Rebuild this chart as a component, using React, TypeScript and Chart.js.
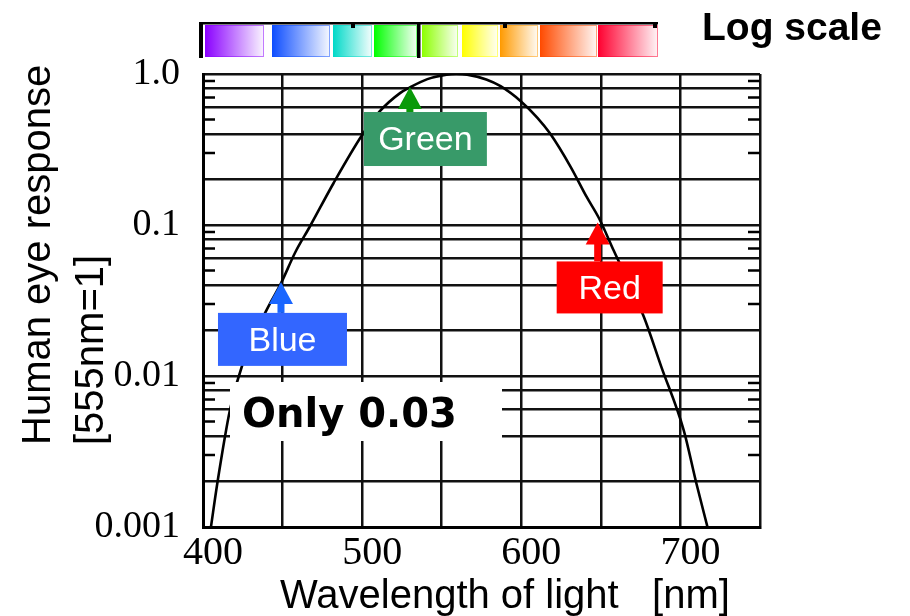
import React, { useEffect, useRef } from 'react';
import { Chart, registerables } from 'chart.js';

Chart.register(...registerables);

// ---- data ----
const wavelengths = [405, 409, 417, 425, 440, 449, 458, 467, 482, 500, 511, 524, 530, 541, 553, 559, 566, 578, 587, 600, 610, 618, 631, 641, 649, 658, 677, 688, 702, 710, 717];
const response = [0.001, 0.00195, 0.006, 0.0121, 0.0274, 0.0411, 0.066, 0.097, 0.189, 0.394, 0.565, 0.75, 0.815, 0.925, 0.99, 1.0, 0.99, 0.92, 0.83, 0.656, 0.515, 0.405, 0.243, 0.154, 0.11, 0.068, 0.0247, 0.0115, 0.0044, 0.00195, 0.001];

const xLabelValues = [400, 500, 600, 700];
const yGridValues = [0.001, 0.002, 0.004, 0.006, 0.008, 0.01, 0.02, 0.04, 0.06, 0.08, 0.1, 0.2, 0.4, 0.6, 0.8, 1];
const yLabelValues = [0.001, 0.01, 0.1, 1];
const yLabelTexts = ['0.001', '0.01', '0.1', '1.0'];
const yMinorValues = [0.003, 0.005, 0.007, 0.009, 0.03, 0.05, 0.07, 0.09, 0.3, 0.5, 0.7, 0.9];

const calloutLabels = ['Blue', 'Green', 'Red'];
const calloutWavelengths = [449, 530, 648];
const calloutValues = [0.042, 0.82, 0.104];

const spectrumColors = ['#8A00FF', '#0D4DFF', '#00D9C8', '#00FF00', '#8CFF00', '#FFFF00', '#FF9A00', '#FF4A00', '#FF0030'];

const xTitle = 'Wavelength of light   [nm]';
const yTitleLines = ['Human eye response', '[555nm=1]'];
const cornerNote = 'Log scale';
const boxNote = 'Only 0.03';

// ---- layout / style (not data) ----
const calloutStyle = [
  { arrow: '#1A66FF', box: '#3366FF', dx: 1.5, gap: 31, w: 129, h: 53 },
  { arrow: '#0A9A0A', box: '#389A69', dx: 15.5, gap: 25, w: 123, h: 54 },
  { arrow: '#FF0000', box: '#FF0000', dx: 12, gap: 39, w: 106, h: 52 },
];
const spectrumPx = [[205, 264], [272, 330], [333, 372], [374, 417], [422, 458], [462, 498], [500, 538], [540, 597], [598, 658]];

function hexToRgba(hex: string, a: number) {
  const n = parseInt(hex.slice(1), 16);
  return `rgba(${(n >> 16) & 255},${(n >> 8) & 255},${n & 255},${a})`;
}

const decorPlugin = {
  id: 'decor',
  afterDraw(chart: any) {
    const ctx = chart.ctx as CanvasRenderingContext2D;
    const xs = chart.scales.x;
    const ys = chart.scales.y;
    const ca = chart.chartArea;
    ctx.save();

    // minor inward ticks on left and right edges
    ctx.strokeStyle = '#000';
    ctx.lineWidth = 2.5;
    yMinorValues.forEach((v) => {
      const y = ys.getPixelForValue(v);
      ctx.beginPath();
      ctx.moveTo(ca.left, y);
      ctx.lineTo(ca.left + 12, y);
      ctx.moveTo(ca.right - 12, y);
      ctx.lineTo(ca.right, y);
      ctx.stroke();
    });

    // white note box
    ctx.fillStyle = '#FFFFFF';
    ctx.fillRect(230, 382, 272, 59);
    ctx.fillStyle = '#000';
    ctx.font = 'bold 40px "DejaVu Sans"';
    ctx.textAlign = 'left';
    ctx.textBaseline = 'alphabetic';
    ctx.fillText(boxNote, 242, 427);

    // callouts
    calloutLabels.forEach((label, i) => {
      const st = calloutStyle[i];
      const tx = xs.getPixelForValue(calloutWavelengths[i]);
      const ty = ys.getPixelForValue(calloutValues[i]);
      const boxTop = ty + st.gap;
      ctx.fillStyle = st.arrow;
      ctx.beginPath();
      ctx.moveTo(tx, ty);
      ctx.lineTo(tx - 12, ty + 22);
      ctx.lineTo(tx + 12, ty + 22);
      ctx.closePath();
      ctx.fill();
      ctx.fillRect(tx - 3.5, ty + 21, 7, boxTop - ty - 21);
      const cx = tx + st.dx;
      ctx.fillStyle = st.box;
      ctx.fillRect(cx - st.w / 2, boxTop, st.w, st.h);
      ctx.fillStyle = '#FFFFFF';
      ctx.font = '34px "Liberation Sans"';
      ctx.textAlign = 'center';
      ctx.textBaseline = 'middle';
      ctx.fillText(label, cx, boxTop + st.h / 2 + 2);
    });

    // spectrum bar
    spectrumColors.forEach((c, i) => {
      const [x0, x1] = spectrumPx[i];
      const g = ctx.createLinearGradient(x0, 0, x1, 0);
      g.addColorStop(0, c);
      g.addColorStop(1, hexToRgba(c, 0.04));
      ctx.fillStyle = '#FFFFFF';
      ctx.fillRect(x0, 25, x1 - x0, 32);
      ctx.fillStyle = g;
      ctx.fillRect(x0, 25, x1 - x0, 32);
      ctx.strokeStyle = hexToRgba(c, 0.5);
      ctx.lineWidth = 1;
      ctx.strokeRect(x0 + 0.5, 25.5, x1 - x0 - 1, 31);
    });
    ctx.fillStyle = '#000';
    ctx.fillRect(199, 22, 459, 2.5);
    ctx.fillRect(199, 22, 4, 36);
    ctx.fillRect(417, 22, 3.5, 36);
    ctx.fillRect(351, 22, 4, 6);
    ctx.fillRect(503, 22, 4, 6);
    ctx.fillRect(653, 22, 4, 6);

    // texts: corner note and axis titles
    ctx.fillStyle = '#000';
    ctx.font = 'bold 39px "Liberation Sans"';
    ctx.textAlign = 'left';
    ctx.textBaseline = 'alphabetic';
    ctx.fillText(cornerNote, 702, 40);

    ctx.font = '40px "Liberation Sans"';
    ctx.fillText(xTitle, 280, 608);

    const lineX = [50, 103];
    yTitleLines.forEach((t, i) => {
      ctx.save();
      ctx.translate(lineX[i], 445);
      ctx.rotate(-Math.PI / 2);
      ctx.textAlign = 'left';
      ctx.textBaseline = 'alphabetic';
      ctx.fillText(t, 0, 0);
      ctx.restore();
    });

    ctx.restore();
  },
};

export default function App() {
  const ref = useRef<HTMLCanvasElement | null>(null);
  useEffect(() => {
    if (!ref.current) return;
    const chart = new Chart(ref.current, {
      type: 'line',
      data: {
        datasets: [
          {
            data: wavelengths.map((w, i) => ({ x: w, y: response[i] })),
            borderColor: '#000',
            borderWidth: 2.6,
            pointRadius: 0,
            fill: false,
            cubicInterpolationMode: 'monotone',
          },
        ],
      },
      options: {
        responsive: false,
        devicePixelRatio: 1,
        animation: false,
        layout: { padding: { left: 0, top: 74, right: 150, bottom: 0 } },
        plugins: { legend: { display: false }, tooltip: { enabled: false } },
        scales: {
          x: {
            type: 'linear',
            min: 400,
            max: 750,
            afterFit: (s: any) => { s.height = 89; },
            ticks: {
              stepSize: 50,
              autoSkip: false,
              maxRotation: 0,
              padding: 2,
              labelOffset: 10,
              color: '#000',
              font: { family: '"Liberation Serif"', size: 40 },
              callback: (v: any) => (xLabelValues.includes(Number(v)) ? String(v) : ''),
            },
            grid: { color: '#111', lineWidth: 2.5, drawTicks: false },
            border: { color: '#000', width: 3 },
          },
          y: {
            type: 'logarithmic',
            min: 0.001,
            max: 1,
            afterFit: (s: any) => { s.width = 203; },
            afterBuildTicks: (s: any) => { s.ticks = yGridValues.map((v) => ({ value: v })); },
            ticks: {
              autoSkip: false,
              padding: 23,
              color: '#000',
              font: { family: '"Liberation Serif"', size: 38 },
              callback: (v: any) => {
                const i = yLabelValues.indexOf(Number(v));
                return i >= 0 ? yLabelTexts[i] : '';
              },
            },
            grid: { color: '#111', lineWidth: 2.5, drawTicks: false },
            border: { color: '#000', width: 3 },
          },
        },
      },
      plugins: [decorPlugin],
    } as any);
    return () => chart.destroy();
  }, []);
  return (
    <div style={{ position: 'fixed', left: 0, top: 0, width: 910, height: 616, background: '#fff' }}>
      <canvas ref={ref} width={910} height={616} style={{ display: 'block' }} />
    </div>
  );
}
